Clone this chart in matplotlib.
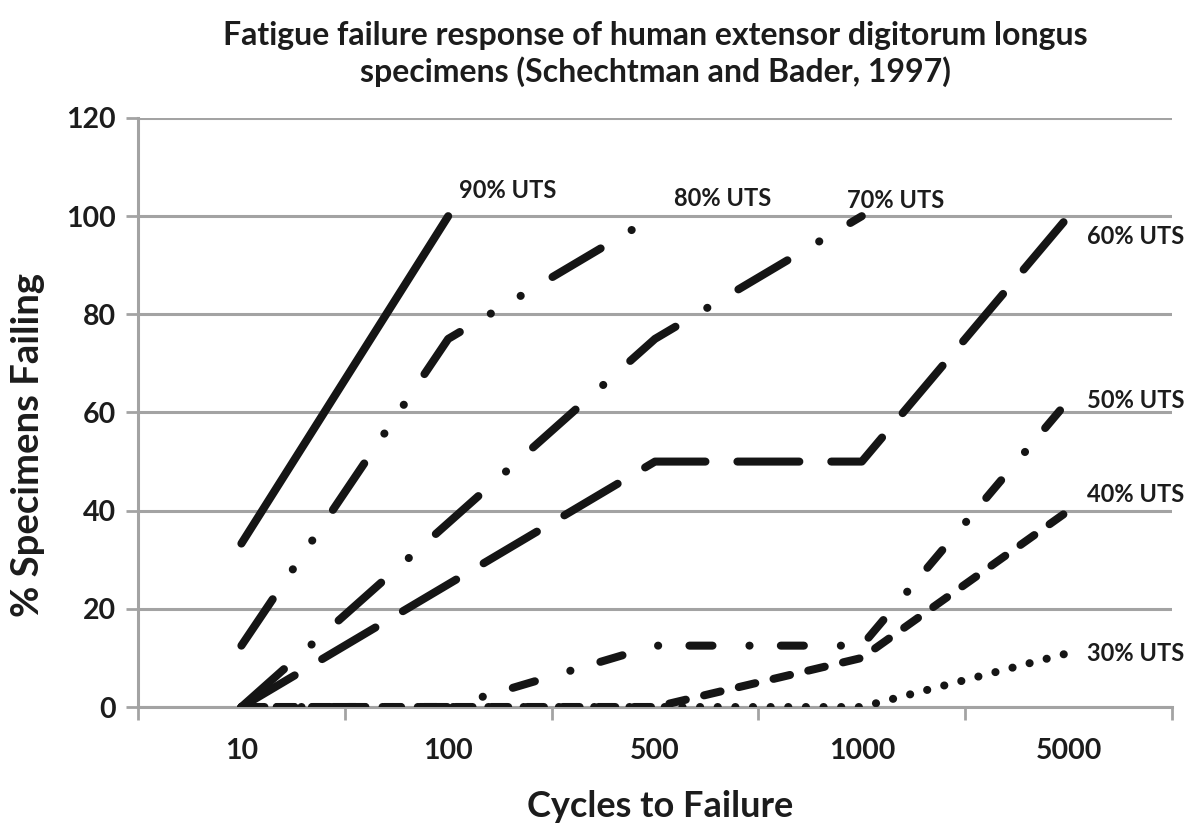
import numpy as np
import matplotlib.pyplot as plt

plt.rcParams['font.family'] = ['Lato', 'DejaVu Sans']
plt.rcParams['font.weight'] = 'bold'
plt.rcParams['axes.labelweight'] = 'bold'
plt.rcParams['lines.scale_dashes'] = False

# data
cycles = ['10', '100', '500', '1000', '5000']
uts90 = [33.3, 100]
uts80 = [12.5, 75, 100]
uts70 = [0, 37.5, 75, 100]
uts60 = [0, 25, 50, 50, 100]
uts50 = [0, 0, 12.5, 12.5, 62.5]
uts40 = [0, 0, 0, 10, 40]
uts30 = [0, 0, 0, 0, 11]
series_names = ['90% UTS', '80% UTS', '70% UTS', '60% UTS', '50% UTS', '40% UTS', '30% UTS']

txt = '#1c1c1c'
grey = '#a3a3a3'
lw = 5.8

fig = plt.figure(figsize=(12.04, 8.30), dpi=100)
ax = fig.add_axes([138/1204, 1-707/830, (1172-138)/1204, (707-118)/830])

x = np.arange(len(cycles))

# dash patterns (points): solid, long dash dot dot, long dash dot, long dash, dash dot, dash, dot
styles = [None,
          [40.3, 25.9, 0.1, 24.9, 0.1, 26.6],
          [41, 26.6, 0.1, 26],
          [44.6, 23],
          [16.6, 26.6, 0.1, 22.5],
          [12.2, 13.5],
          [0.1, 12.6]]
data = [uts90, uts80, uts70, uts60, uts50, uts40, uts30]

for vals, ds in zip(data, styles):
    xs = x[:len(vals)]
    if ds is None:
        ax.plot(xs, vals, color='#151515', lw=lw, solid_capstyle='round',
                solid_joinstyle='round', zorder=3)
    else:
        ax.plot(xs, vals, color='#151515', lw=lw, dashes=ds,
                dash_capstyle='round', dash_joinstyle='round', zorder=3)

# series labels
label_pos = [(1.05, 105.3), (2.09, 103.7), (2.93, 103.1), (4.09, 95.8),
             (4.09, 62.5), (4.09, 43.2), (4.09, 10.8)]
for name, (lx, ly) in zip(series_names, label_pos):
    ax.text(lx, ly, name, fontsize=17, color=txt, ha='left', va='center',
            fontweight='bold')

ax.set_xlim(-0.5, 4.5)
ax.set_ylim(0, 120)
ax.set_yticks(np.arange(0, 121, 20))
ax.yaxis.grid(True, color=grey, lw=2.2)
ax.set_axisbelow(True)

ax.set_xticks(np.arange(-0.5, 4.6, 1))
ax.set_xticklabels([])
ax.set_xticks(x, minor=True)
ax.set_xticklabels(cycles, minor=True, fontweight='bold')
ax.tick_params(axis='x', which='major', length=9, width=2, color=grey, direction='out')
ax.tick_params(axis='x', which='minor', length=0, pad=22, labelsize=20.5, labelcolor=txt)
ax.tick_params(axis='y', length=9, width=2, color=grey, pad=7, labelsize=20.5, labelcolor=txt)
for t in ax.get_yticklabels():
    t.set_fontweight('bold')

for s in ['top', 'right']:
    ax.spines[s].set_visible(False)
for s in ['left', 'bottom']:
    ax.spines[s].set_color(grey)
    ax.spines[s].set_linewidth(2.2)

# axis titles
fig.text(660/1204, 1-806/830, 'Cycles to Failure', ha='center', va='center',
         fontsize=26, color=txt, fontweight='bold')
fig.text(28/1204, 1-445/830, '% Specimens Failing', ha='center', va='center',
         rotation=90, fontsize=27.5, color=txt, fontweight='bold')

fig.text(655/1204, 1-36/830, 'Fatigue failure response of human extensor digitorum longus',
         ha='center', va='center', fontsize=23, color=txt, fontweight='bold')
fig.text(655/1204, 1-72/830, 'specimens (Schechtman and Bader, 1997)',
         ha='center', va='center', fontsize=23, color=txt, fontweight='bold')

fig.savefig('out.png', dpi=100, facecolor='white')
